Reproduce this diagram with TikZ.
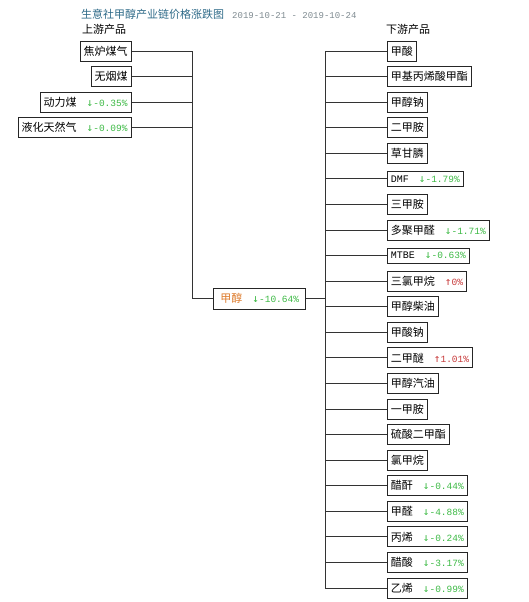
\documentclass[tikz,border=0pt]{standalone}
\usepackage{fontspec}
\newfontfamily\cjk{Noto Sans CJK SC}
\newfontfamily\mono{Liberation Mono}
\newfontfamily\arrowfont{DejaVu Sans Mono}
\usepackage{xcolor}
\usetikzlibrary{positioning}

\definecolor{titleblue}{HTML}{2E6A88}
\definecolor{dategray}{HTML}{7E8A90}
\definecolor{downgreen}{HTML}{3DBA45}
\definecolor{upred}{HTML}{C83A3A}
\definecolor{midorange}{HTML}{DD7A2A}

% price change labels
\newcommand{\pdown}[1]{\hspace{10pt}{\color{downgreen}{\fontsize{11}{13}\selectfont\arrowfont ↓}\fontsize{9.5}{11}\selectfont\mono#1}}
\newcommand{\pup}[1]{\hspace{10pt}{\color{upred}{\fontsize{11}{13}\selectfont\arrowfont ↑}\fontsize{9.5}{11}\selectfont\mono#1}}
\newcommand{\latin}[1]{{\fontsize{10}{11}\selectfont\mono#1}}

\tikzset{
  prod/.style={draw=black!85, line width=0.9pt, fill=white, inner xsep=3.5pt, inner ysep=0pt,
    minimum height=#1, font=\cjk\fontsize{11}{13}\selectfont},
  prod/.default=20pt,
  link/.style={draw=black!80, line width=0.8pt},
  head/.style={anchor=west, inner sep=0pt, font=\cjk\fontsize{11}{13}\selectfont}
}

\begin{document}
\begin{tikzpicture}[x=1pt, y=-1pt]
  \useasboundingbox (0,0) rectangle (529,602);

  % title and column heads
  \node[head, text=titleblue] (title) at (81,14)
    {生意社甲醇产业链价格涨跌图\hspace{8pt}{\color{dategray}\mono\fontsize{9}{11}\selectfont 2019-10-21 - 2019-10-24}};
  \node[head] (hdup) at (82,29) {上游产品};
  \node[head] (hddown) at (386,29) {下游产品};

  % the two buses
  \coordinate (lbus) at (192.5,298.7);
  \coordinate (rbus) at (325,298.7);

  % methanol
  \node[prod=21pt, minimum width=92pt, anchor=west] (mid) at (213.3,298.7)
    {{\color{midorange}甲醇}\pdown{-10.64\%}};
  \draw[link] (lbus) -- (mid.west);
  \draw[link] (mid.east) -- (rbus);

  % upstream
  \foreach \txt [count=\i from 0] in {焦炉煤气, 无烟煤, 动力煤\pdown{-0.35\%}, 液化天然气\pdown{-0.09\%}} {
    \node[prod, anchor=east] (u\i) at (131.5,{51+25.5*\i}) {\txt};
    \draw[link] (u\i.east) -| (lbus);
  }

  % downstream
  \foreach \txt/\hgt [count=\i from 0] in {
      甲酸/20pt, 甲基丙烯酸甲酯/20pt, 甲醇钠/20pt, 二甲胺/20pt, 草甘膦/20pt,
      \latin{DMF}\pdown{-1.79\%}/15pt, 三甲胺/20pt, 多聚甲醛\pdown{-1.71\%}/20pt,
      \latin{MTBE}\pdown{-0.63\%}/15pt, 三氯甲烷\pup{0\%}/20pt, 甲醇柴油/20pt, 甲酸钠/20pt,
      二甲醚\pup{1.01\%}/20pt, 甲醇汽油/20pt, 一甲胺/20pt, 硫酸二甲酯/20pt, 氯甲烷/20pt,
      醋酐\pdown{-0.44\%}/20pt, 甲醛\pdown{-4.88\%}/20pt, 丙烯\pdown{-0.24\%}/20pt,
      醋酸\pdown{-3.17\%}/20pt, 乙烯\pdown{-0.99\%}/20pt} {
    \node[prod=\hgt, anchor=west] (d\i) at (387,{51+25.57*\i}) {\txt};
    \draw[link] (rbus) |- (d\i.west);
  }
\end{tikzpicture}
\end{document}
